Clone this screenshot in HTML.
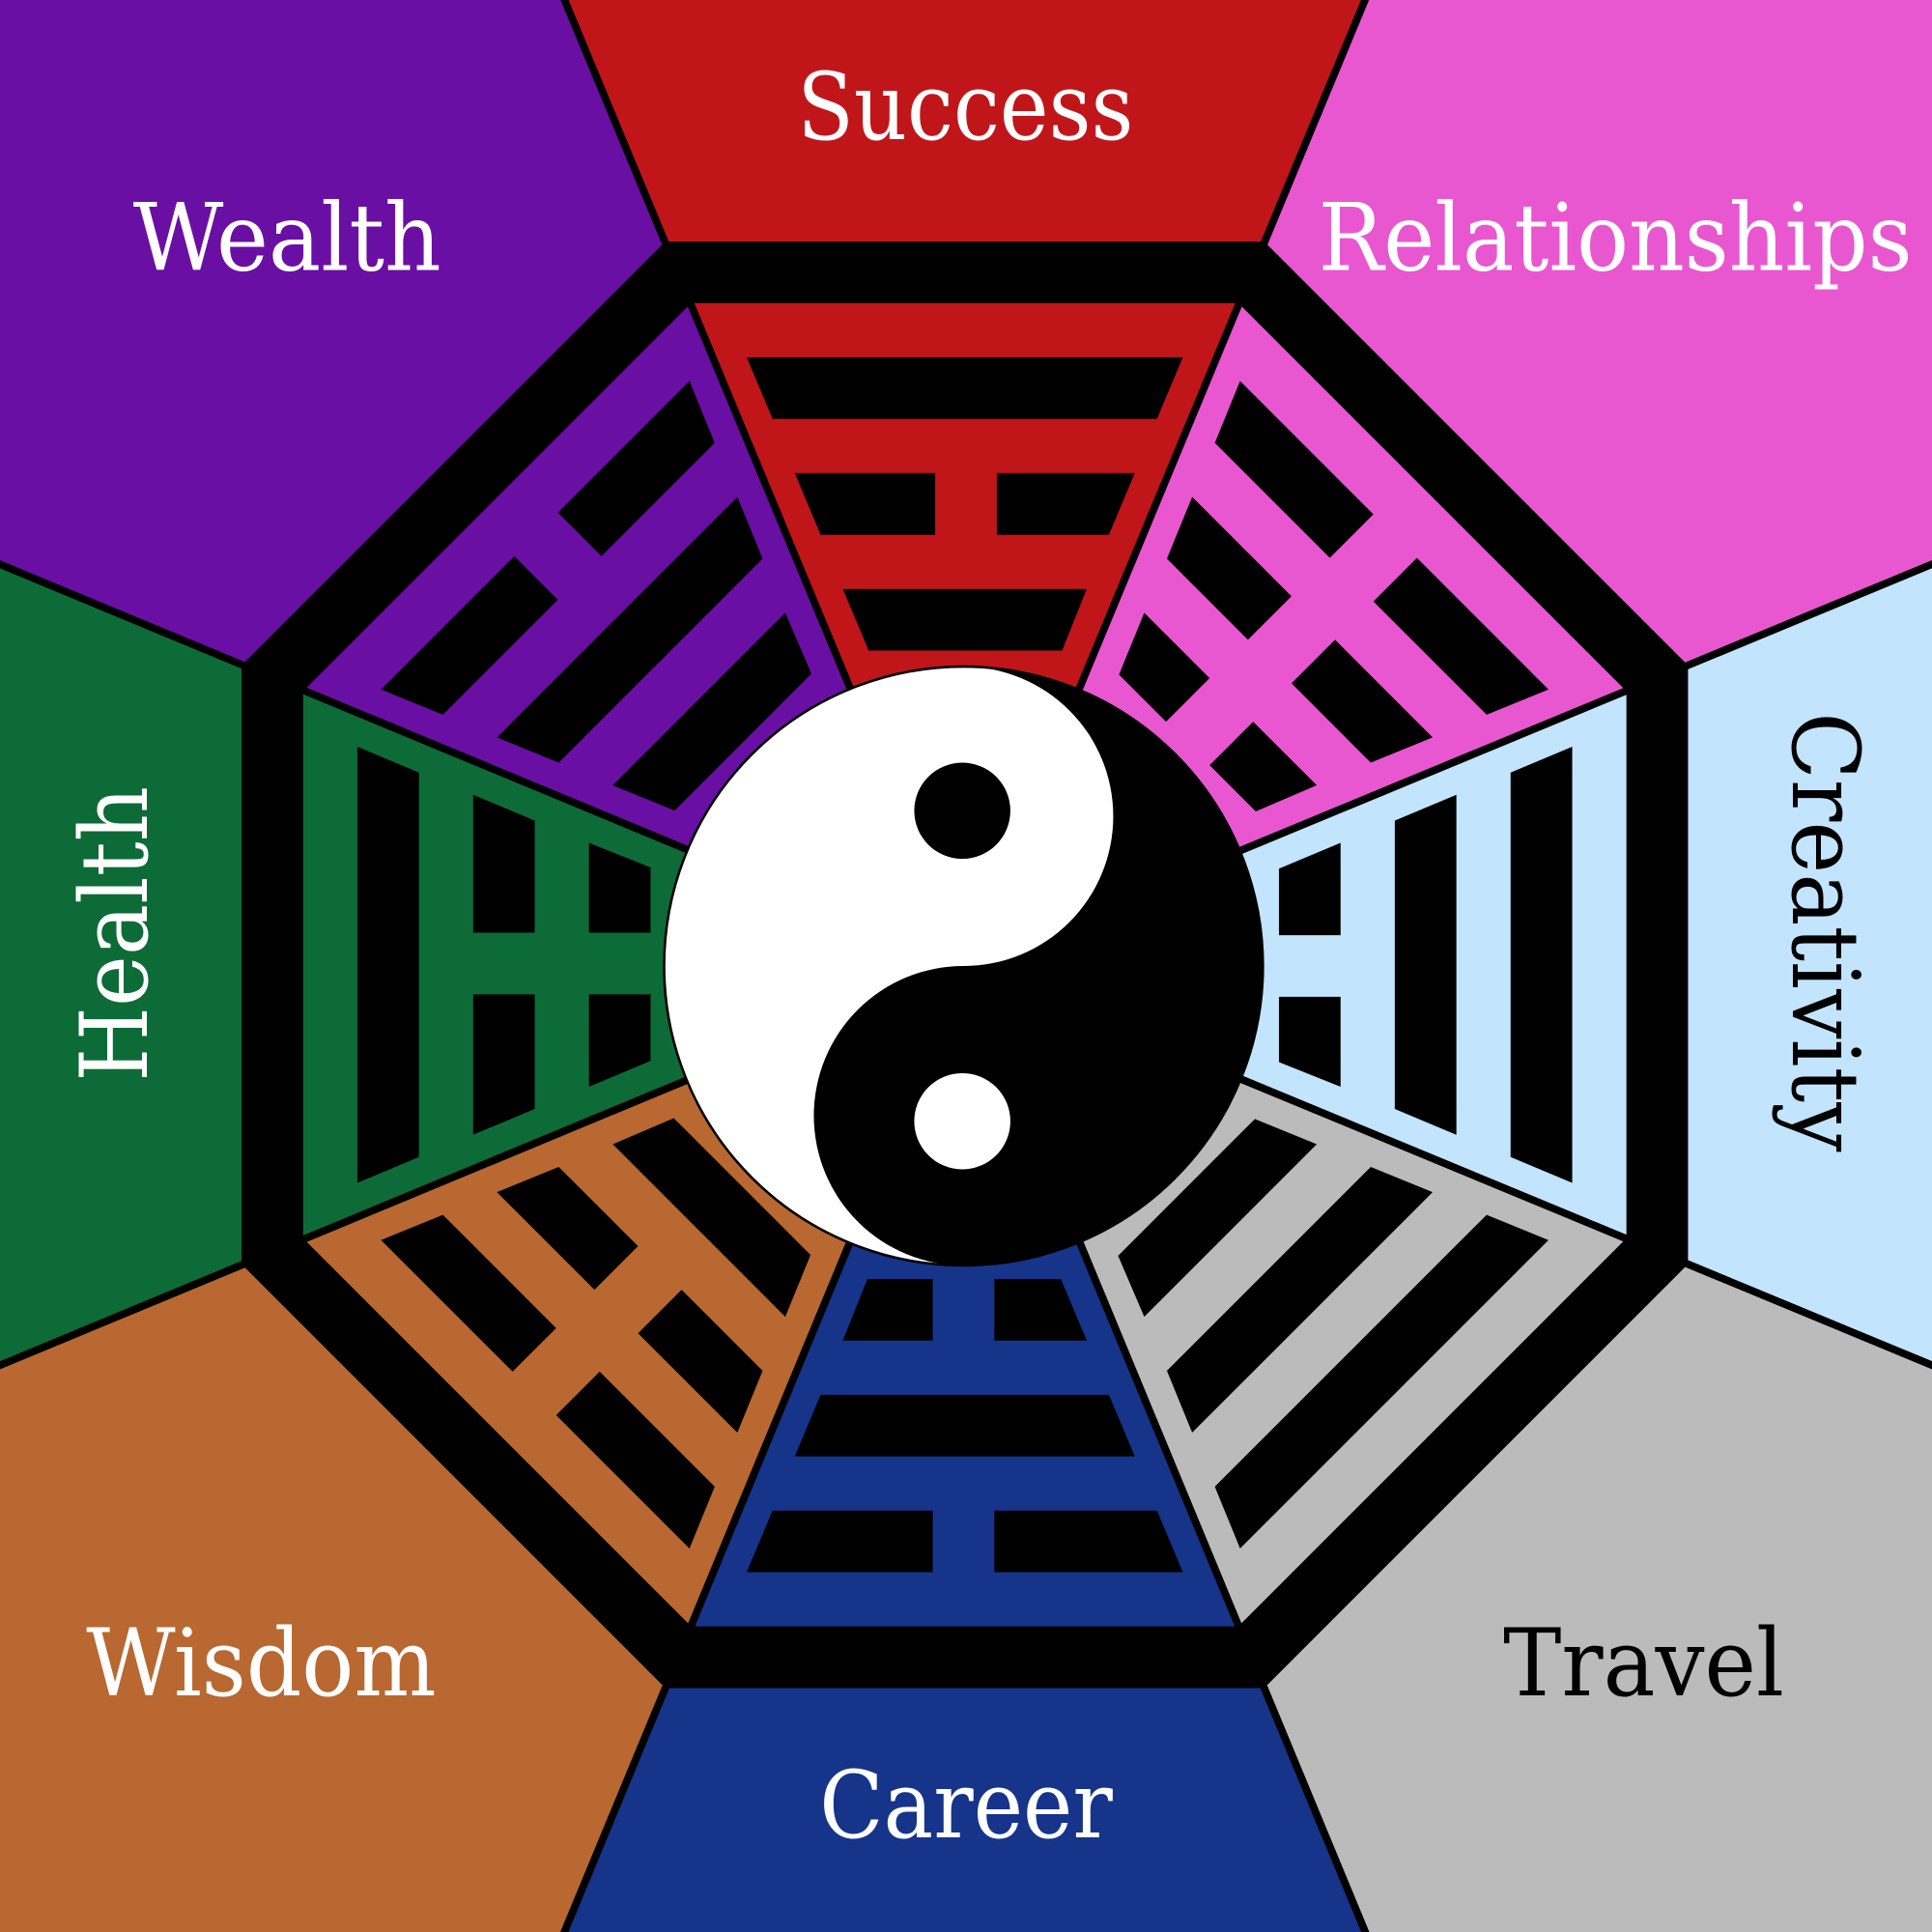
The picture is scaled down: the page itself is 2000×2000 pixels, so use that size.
<!DOCTYPE html>
<html><head><meta charset="utf-8"><style>
html,body{margin:0;padding:0;background:#fff}
svg{display:block}
text{font-family:"DejaVu Serif","Liberation Serif",serif;font-size:76px}
</style></head><body>
<svg width="2000" height="2000" viewBox="0 0 1568 1568" xmlns="http://www.w3.org/2000/svg">
<g stroke="#000" stroke-width="6" stroke-linejoin="miter">
<polygon points="783,783 454,-10 1112,-10" fill="#C0161A"/>
<polygon points="783,783 1112,-10 1580,-10 1580,453" fill="#E957D0"/>
<polygon points="783,783 1580,453 1580,1113" fill="#C2E4FD"/>
<polygon points="783,783 1580,1113 1580,1580 1113,1580" fill="#BBBBBC"/>
<polygon points="783,783 1113,1580 453,1580" fill="#15348A"/>
<polygon points="783,783 453,1580 -12,1580 -12,1113" fill="#B86830"/>
<polygon points="783,783 -12,1113 -12,453" fill="#0D6B37"/>
<polygon points="783,783 -12,453 -12,-10 454,-10" fill="#6A0FA3"/>
</g>
<path fill="#000" fill-rule="evenodd" d="
M540,196 L1026,196 L1370,540 L1370,1026 L1026,1370 L540,1370 L196,1026 L196,540 Z
M561,246 L1005,246 L1320,561 L1320,1005 L1005,1320 L561,1320 L246,1005 L246,561 Z"/>
<defs>
<g id="s0"><polygon points="606,290 960,290 939,340 627,340"/></g>
<g id="b0"><polygon points="606,290 759,290 759,340 627,340"/><polygon points="809,290 960,290 939,340 809,340"/></g>
<g id="s1"><polygon points="645,384 921,384 900,434 666,434"/></g>
<g id="b1"><polygon points="645,384 759,384 759,434 666,434"/><polygon points="809,384 921,384 900,434 809,434"/></g>
<g id="s2"><polygon points="684,478 882,478 862,528 705,528"/></g>
<g id="b2"><polygon points="684,478 759,478 759,528 705,528"/><polygon points="809,478 882,478 862,528 809,528"/></g>
</defs>
<g fill="#000">
<g><use href="#s0"/><use href="#b1"/><use href="#s2"/></g>
<g transform="rotate(45 783 783)"><use href="#b0"/><use href="#b1"/><use href="#b2"/></g>
<g transform="rotate(90 783 783)"><use href="#s0"/><use href="#s1"/><use href="#b2"/></g>
<g transform="rotate(135 783 783)"><use href="#s0"/><use href="#s1"/><use href="#s2"/></g>
<g transform="rotate(180 783 783)"><use href="#b0"/><use href="#s1"/><use href="#b2"/></g>
<g transform="rotate(225 783 783)"><use href="#b0"/><use href="#b1"/><use href="#s2"/></g>
<g transform="rotate(270 783 783)"><use href="#s0"/><use href="#b1"/><use href="#b2"/></g>
<g transform="rotate(315 783 783)"><use href="#b0"/><use href="#s1"/><use href="#s2"/></g>
</g>
<circle cx="782" cy="784" r="243" fill="#000"/>
<path fill="#fff" d="M782,541 A243,243 0 0 0 782,1027 A121.5,121.5 0 0 1 782,784 A121.5,121.5 0 0 0 782,541 Z"/>
<circle cx="782" cy="784" r="243" fill="none" stroke="#000" stroke-width="2"/>
<circle cx="781" cy="658" r="39" fill="#000"/>
<circle cx="781" cy="910" r="39" fill="#fff"/>
<text x="647" y="113" fill="#fff" textLength="273" lengthAdjust="spacingAndGlyphs">Success</text>
<text x="108" y="219" fill="#fff" textLength="250" lengthAdjust="spacingAndGlyphs">Wealth</text>
<text x="1070" y="219" fill="#fff" textLength="482" lengthAdjust="spacingAndGlyphs">Relationships</text>
<text x="70" y="1376" fill="#fff" textLength="284" lengthAdjust="spacingAndGlyphs">Wisdom</text>
<text x="1220" y="1376" fill="#000" textLength="228" lengthAdjust="spacingAndGlyphs">Travel</text>
<text x="665" y="1491" fill="#fff" textLength="238" lengthAdjust="spacingAndGlyphs">Career</text>
<text transform="translate(119 878) rotate(-90)" fill="#fff" textLength="240" lengthAdjust="spacingAndGlyphs">Health</text>
<text transform="translate(1455 578) rotate(90)" fill="#000" textLength="357" lengthAdjust="spacingAndGlyphs">Creativity</text>
</svg>
</body></html>
